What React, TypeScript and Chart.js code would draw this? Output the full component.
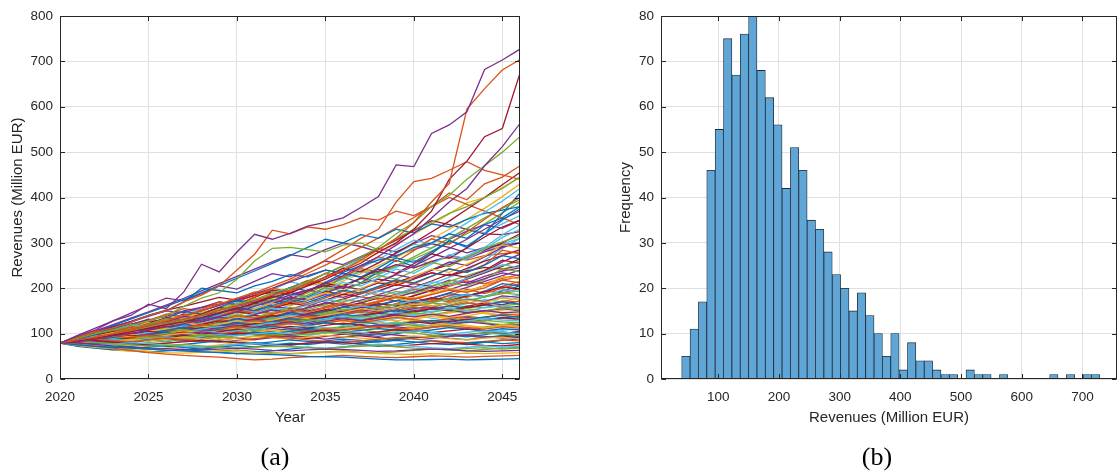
import React, { useEffect, useRef } from 'react';
import { Chart, registerables } from 'chart.js';

Chart.register(...registerables);

// ---------- Panel (a): simulated revenue paths ----------
const years = [2020, 2021, 2022, 2023, 2024, 2025, 2026, 2027, 2028, 2029, 2030, 2031, 2032, 2033, 2034, 2035, 2036, 2037, 2038, 2039, 2040, 2041, 2042, 2043, 2044, 2045, 2046];
const yearTicksStep = 5;
const revenueMax = 800;

const mainPaths = [
  [79, 75, 72, 70, 68, 66, 63, 62, 60, 58, 56, 55, 54, 52, 50, 49, 48, 46, 44, 42, 42, 43, 44, 42, 43, 44, 45],
  [79, 76, 72, 68, 63, 58, 55, 52, 50, 48, 45, 42, 44, 47, 49, 50, 52, 50, 48, 47, 49, 51, 50, 48, 50, 51, 52],
  [79, 74, 70, 67, 64, 60, 58, 57, 59, 61, 60, 58, 56, 55, 57, 59, 60, 58, 56, 55, 54, 56, 55, 57, 56, 57, 58],
  [79, 80, 76, 73, 70, 68, 67, 65, 64, 66, 68, 66, 63, 62, 64, 66, 65, 63, 61, 62, 64, 66, 65, 62, 61, 62, 63],
  [79, 83, 80, 78, 75, 72, 74, 76, 73, 70, 68, 70, 72, 71, 69, 67, 70, 72, 74, 71, 68, 66, 65, 67, 69, 66, 68],
  [79, 76, 74, 77, 80, 78, 75, 72, 70, 73, 76, 78, 75, 72, 70, 68, 71, 74, 77, 75, 72, 69, 67, 70, 73, 70, 72],
  [79, 82, 85, 81, 78, 76, 79, 82, 85, 83, 80, 77, 74, 76, 79, 82, 80, 77, 74, 72, 75, 78, 80, 77, 74, 73, 76],
  [79, 75, 78, 82, 79, 76, 73, 76, 80, 84, 81, 78, 82, 86, 83, 80, 77, 79, 82, 85, 82, 78, 76, 79, 82, 78, 80],
  [79, 84, 88, 85, 82, 86, 90, 87, 84, 81, 85, 89, 93, 90, 86, 83, 80, 84, 88, 91, 88, 85, 82, 80, 83, 86, 84],
  [79, 82, 79, 83, 87, 84, 88, 92, 89, 86, 90, 94, 91, 88, 92, 96, 93, 90, 87, 91, 95, 92, 89, 86, 90, 92, 88],
  [79, 77, 81, 84, 82, 86, 89, 85, 82, 86, 90, 87, 91, 95, 92, 88, 92, 96, 100, 97, 93, 90, 94, 97, 94, 90, 92],
  [79, 83, 87, 84, 88, 92, 89, 93, 97, 94, 90, 94, 98, 95, 99, 103, 100, 96, 100, 104, 101, 97, 94, 98, 101, 99, 96],
  [79, 81, 84, 88, 85, 89, 93, 90, 94, 98, 95, 99, 103, 100, 97, 101, 105, 102, 98, 102, 106, 103, 99, 103, 106, 103, 100],
  [79, 84, 81, 85, 90, 87, 91, 96, 93, 97, 101, 98, 94, 98, 103, 107, 104, 100, 104, 109, 106, 102, 106, 110, 107, 101, 104],
  [79, 82, 86, 91, 88, 84, 88, 93, 97, 94, 99, 103, 100, 105, 109, 106, 102, 107, 111, 108, 104, 108, 113, 110, 106, 111, 108],
  [79, 86, 90, 87, 92, 96, 93, 89, 94, 99, 103, 100, 96, 101, 106, 110, 107, 112, 116, 112, 108, 113, 117, 114, 110, 115, 112],
  [79, 80, 85, 90, 94, 91, 96, 101, 97, 93, 98, 103, 108, 105, 101, 106, 111, 115, 111, 107, 112, 117, 121, 117, 113, 119, 116],
  [79, 85, 82, 87, 92, 97, 94, 99, 104, 100, 96, 101, 106, 111, 108, 104, 109, 114, 119, 115, 111, 116, 121, 126, 122, 117, 120],
  [79, 83, 88, 85, 90, 95, 100, 97, 93, 98, 103, 108, 104, 100, 105, 111, 116, 112, 117, 122, 118, 114, 119, 125, 129, 126, 124],
  [79, 87, 92, 89, 85, 90, 95, 100, 105, 101, 106, 111, 107, 112, 117, 113, 109, 115, 120, 125, 121, 117, 122, 128, 133, 130, 128],
  [79, 81, 86, 91, 96, 93, 98, 103, 99, 104, 110, 106, 111, 116, 112, 118, 123, 119, 114, 120, 126, 122, 127, 132, 128, 135, 132],
  [79, 84, 81, 86, 91, 97, 102, 98, 104, 109, 105, 111, 116, 112, 118, 124, 120, 126, 121, 117, 123, 129, 125, 131, 137, 140, 136],
  [79, 86, 91, 96, 93, 98, 94, 99, 105, 110, 115, 111, 117, 122, 118, 124, 129, 125, 130, 136, 131, 127, 133, 138, 134, 143, 140],
  [79, 82, 87, 92, 98, 94, 100, 106, 102, 108, 113, 109, 115, 121, 117, 123, 129, 125, 131, 137, 132, 138, 133, 139, 146, 141, 144],
  [79, 85, 90, 87, 93, 99, 104, 100, 106, 112, 118, 114, 120, 126, 121, 127, 133, 129, 135, 141, 137, 143, 138, 145, 151, 146, 148],
  [79, 83, 89, 95, 91, 97, 103, 109, 105, 111, 117, 113, 119, 125, 131, 127, 133, 139, 134, 140, 146, 142, 148, 155, 150, 157, 152],
  [79, 88, 93, 90, 96, 102, 98, 104, 110, 116, 112, 118, 124, 120, 127, 133, 139, 135, 141, 147, 142, 149, 155, 150, 158, 162, 156],
  [79, 81, 87, 93, 99, 105, 101, 107, 113, 109, 116, 122, 118, 125, 131, 137, 133, 140, 146, 141, 148, 155, 150, 157, 164, 158, 160],
  [79, 86, 92, 98, 94, 100, 107, 113, 109, 116, 123, 119, 126, 133, 128, 135, 142, 138, 145, 152, 147, 154, 161, 156, 163, 170, 165],
  [79, 84, 90, 97, 103, 99, 106, 113, 120, 115, 122, 129, 124, 131, 138, 134, 141, 149, 144, 151, 158, 153, 161, 168, 163, 172, 170],
  [79, 89, 95, 91, 98, 105, 111, 107, 114, 121, 128, 123, 130, 138, 133, 140, 147, 155, 150, 157, 165, 160, 167, 174, 169, 178, 175],
  [79, 83, 90, 97, 93, 100, 107, 114, 110, 117, 125, 132, 127, 135, 142, 137, 145, 153, 148, 156, 164, 159, 167, 175, 170, 183, 180],
  [79, 87, 94, 90, 97, 104, 112, 108, 116, 123, 119, 127, 135, 130, 138, 146, 154, 149, 157, 165, 160, 168, 177, 172, 181, 190, 186],
  [79, 85, 92, 99, 106, 102, 110, 117, 113, 121, 129, 125, 133, 141, 137, 145, 153, 161, 156, 164, 173, 168, 177, 186, 180, 197, 192],
  [79, 90, 97, 93, 101, 108, 116, 112, 120, 128, 124, 132, 140, 136, 144, 153, 148, 157, 166, 161, 170, 179, 174, 183, 192, 203, 198],
  [79, 84, 91, 99, 107, 103, 111, 119, 115, 124, 132, 128, 137, 146, 141, 150, 159, 155, 164, 173, 168, 178, 188, 183, 193, 210, 205],
  [79, 88, 96, 92, 100, 108, 117, 113, 121, 130, 139, 134, 143, 152, 148, 157, 167, 162, 171, 181, 176, 186, 196, 191, 201, 218, 212],
  [79, 86, 94, 102, 98, 106, 115, 124, 119, 128, 137, 133, 142, 152, 147, 157, 167, 162, 172, 183, 178, 188, 199, 194, 205, 226, 220],
  [79, 91, 99, 95, 104, 113, 122, 117, 127, 136, 132, 142, 152, 147, 157, 168, 163, 174, 185, 180, 191, 203, 197, 209, 221, 234, 228],
  [79, 85, 93, 102, 111, 107, 116, 126, 121, 131, 141, 136, 147, 158, 153, 164, 175, 170, 181, 193, 188, 200, 212, 206, 219, 243, 236],
  [79, 89, 98, 94, 103, 113, 123, 118, 128, 139, 134, 145, 156, 151, 163, 175, 169, 181, 194, 188, 201, 214, 208, 222, 236, 252, 245],
  [79, 87, 96, 105, 101, 111, 121, 131, 126, 137, 148, 143, 155, 167, 161, 174, 187, 181, 194, 208, 202, 216, 231, 224, 239, 262, 255],
  [79, 92, 101, 97, 107, 117, 127, 122, 133, 144, 156, 150, 162, 175, 169, 182, 196, 190, 204, 219, 212, 227, 242, 235, 251, 272, 265],
  [79, 86, 95, 105, 115, 110, 121, 132, 127, 139, 151, 146, 158, 171, 165, 179, 193, 187, 202, 217, 210, 226, 243, 235, 252, 284, 276],
  [79, 90, 99, 95, 105, 116, 127, 122, 134, 146, 141, 154, 167, 161, 175, 190, 184, 199, 215, 208, 225, 242, 235, 253, 271, 296, 288],
  [79, 88, 98, 108, 104, 115, 126, 138, 133, 145, 158, 152, 166, 180, 174, 189, 204, 197, 213, 230, 222, 240, 258, 250, 269, 290, 300],
  [79, 93, 103, 99, 110, 121, 133, 128, 141, 154, 148, 162, 176, 170, 185, 201, 194, 211, 228, 220, 238, 257, 248, 268, 288, 302, 315],
  [79, 87, 97, 108, 119, 114, 126, 139, 133, 147, 161, 155, 170, 186, 179, 196, 213, 205, 223, 242, 233, 253, 274, 264, 286, 312, 330],
  [79, 91, 102, 98, 110, 122, 135, 129, 143, 158, 152, 167, 183, 176, 193, 211, 203, 222, 242, 233, 254, 276, 266, 289, 313, 335, 350],
  [79, 89, 100, 112, 107, 120, 134, 149, 143, 158, 174, 167, 184, 202, 194, 213, 233, 224, 245, 267, 257, 280, 305, 293, 319, 350, 375],
  [79, 94, 106, 101, 114, 128, 143, 137, 153, 170, 163, 181, 200, 192, 212, 233, 224, 246, 269, 259, 283, 309, 297, 324, 352, 378, 400],
];

const crossPaths = [
  [79, 90, 102, 110, 121, 130, 138, 150, 158, 165, 172, 168, 160, 155, 150, 158, 165, 160, 152, 148, 155, 160, 152, 146, 150, 155, 150],
  [79, 74, 70, 72, 76, 80, 78, 84, 90, 96, 102, 110, 118, 125, 134, 142, 150, 162, 172, 180, 192, 205, 215, 228, 240, 250, 260],
  [79, 86, 95, 104, 112, 118, 126, 133, 138, 142, 136, 130, 134, 128, 122, 126, 120, 114, 118, 112, 108, 114, 118, 112, 106, 108, 110],
  [79, 82, 88, 84, 90, 96, 104, 110, 118, 124, 132, 140, 136, 146, 158, 166, 176, 188, 200, 212, 226, 240, 252, 268, 284, 300, 320],
  [79, 72, 68, 64, 66, 70, 74, 71, 68, 72, 76, 80, 77, 74, 79, 84, 88, 85, 82, 86, 90, 94, 90, 87, 91, 96, 95],
  [79, 88, 84, 92, 100, 96, 104, 100, 108, 116, 112, 122, 130, 126, 134, 144, 140, 150, 160, 155, 166, 176, 170, 182, 194, 190, 200],
  [79, 87, 96, 103, 110, 120, 128, 135, 146, 156, 165, 176, 186, 194, 205, 214, 206, 195, 186, 178, 170, 162, 156, 150, 144, 140, 135],
  [79, 76, 80, 84, 81, 86, 91, 96, 102, 99, 106, 113, 120, 128, 124, 133, 142, 150, 160, 155, 166, 178, 190, 202, 215, 228, 240],
  [79, 84, 80, 76, 80, 85, 82, 88, 94, 90, 97, 104, 100, 108, 115, 111, 106, 112, 119, 126, 121, 116, 122, 129, 124, 120, 125],
  [79, 85, 92, 99, 95, 102, 110, 118, 126, 134, 128, 122, 130, 138, 146, 140, 134, 142, 151, 160, 154, 148, 157, 166, 175, 170, 180],
  [79, 90, 98, 108, 118, 128, 124, 134, 145, 156, 150, 162, 174, 168, 180, 193, 186, 199, 212, 206, 220, 234, 228, 244, 260, 272, 285],
  [79, 92, 100, 110, 118, 114, 108, 102, 110, 116, 112, 106, 100, 96, 102, 108, 104, 98, 94, 100, 106, 102, 97, 93, 98, 104, 100],
  [79, 81, 86, 92, 88, 95, 102, 98, 106, 114, 122, 118, 127, 136, 132, 141, 150, 146, 156, 166, 162, 173, 184, 180, 192, 204, 215],
  [79, 73, 68, 64, 61, 64, 68, 72, 70, 75, 80, 86, 92, 88, 95, 102, 110, 106, 114, 122, 130, 126, 135, 144, 150, 155, 160],
  [79, 94, 106, 116, 126, 138, 150, 146, 158, 170, 164, 176, 170, 162, 174, 186, 180, 192, 186, 198, 210, 204, 218, 212, 226, 238, 245],
  [79, 78, 82, 86, 90, 94, 90, 86, 91, 96, 101, 97, 92, 97, 102, 107, 112, 108, 103, 108, 113, 118, 114, 110, 115, 120, 118],
  [79, 85, 93, 101, 110, 106, 116, 126, 122, 133, 144, 156, 150, 163, 176, 170, 184, 198, 192, 208, 224, 240, 256, 272, 290, 318, 340],
  [79, 88, 96, 92, 86, 92, 98, 105, 112, 108, 115, 110, 117, 124, 131, 138, 133, 128, 135, 143, 150, 158, 152, 160, 168, 164, 172],
  [79, 74, 70, 66, 62, 59, 62, 65, 62, 59, 56, 59, 62, 66, 70, 67, 71, 75, 72, 76, 80, 84, 80, 76, 81, 85, 88],
  [79, 86, 94, 102, 110, 120, 130, 125, 136, 147, 158, 152, 144, 154, 165, 160, 170, 181, 176, 187, 198, 192, 204, 216, 210, 222, 230],
  [79, 83, 77, 82, 88, 94, 90, 96, 102, 108, 104, 99, 105, 111, 118, 124, 119, 126, 133, 128, 134, 141, 136, 130, 136, 144, 142],
  [79, 88, 98, 108, 120, 132, 126, 138, 150, 162, 175, 188, 200, 214, 228, 240, 232, 225, 238, 252, 245, 258, 272, 265, 280, 292, 300],
  [79, 82, 78, 84, 90, 87, 93, 99, 106, 113, 109, 116, 123, 130, 125, 133, 141, 136, 144, 152, 160, 168, 163, 172, 181, 188, 195],
  [79, 90, 98, 106, 114, 110, 118, 126, 120, 114, 120, 128, 136, 130, 124, 130, 137, 132, 126, 133, 140, 134, 128, 124, 129, 134, 130],
  [79, 84, 90, 86, 93, 100, 108, 104, 112, 120, 116, 125, 134, 143, 138, 148, 158, 168, 178, 172, 184, 196, 208, 220, 234, 248, 265],
  [79, 76, 72, 69, 72, 75, 72, 69, 66, 70, 74, 71, 75, 79, 76, 80, 84, 81, 85, 89, 93, 90, 94, 98, 102, 100, 105],
  [79, 92, 86, 96, 106, 98, 110, 122, 114, 104, 116, 128, 120, 134, 148, 138, 150, 162, 152, 166, 180, 170, 184, 198, 188, 200, 210],
  [79, 80, 84, 88, 93, 98, 103, 99, 95, 100, 105, 110, 116, 112, 117, 123, 129, 125, 131, 137, 143, 139, 145, 151, 147, 152, 155],
  [79, 88, 97, 107, 103, 114, 125, 137, 132, 145, 158, 172, 166, 181, 196, 190, 206, 222, 214, 231, 249, 268, 288, 308, 330, 352, 370],
  [79, 77, 74, 71, 68, 66, 64, 62, 60, 62, 64, 61, 58, 56, 58, 60, 62, 59, 57, 60, 63, 66, 64, 62, 65, 68, 70],
  [79, 86, 81, 88, 95, 102, 97, 104, 111, 118, 113, 120, 128, 136, 131, 139, 147, 142, 150, 158, 166, 161, 169, 177, 172, 179, 185],
  [79, 91, 103, 115, 127, 140, 152, 160, 170, 180, 174, 184, 192, 186, 196, 206, 200, 210, 220, 214, 224, 234, 228, 238, 246, 242, 250],
  [79, 81, 85, 82, 86, 91, 96, 92, 88, 93, 98, 104, 100, 106, 112, 108, 114, 120, 116, 122, 128, 124, 130, 136, 132, 135, 138],
  [79, 85, 92, 99, 107, 103, 111, 119, 115, 124, 133, 128, 138, 148, 143, 153, 164, 158, 169, 180, 175, 187, 199, 193, 206, 218, 225],
  [79, 88, 97, 106, 115, 124, 133, 140, 146, 150, 154, 148, 142, 136, 140, 134, 128, 122, 126, 120, 115, 119, 123, 118, 113, 117, 115],
  [79, 83, 88, 94, 100, 96, 103, 110, 117, 113, 121, 129, 137, 132, 141, 150, 159, 168, 162, 172, 183, 195, 208, 221, 235, 258, 275],
  [79, 84, 89, 94, 90, 86, 91, 97, 103, 109, 105, 112, 119, 126, 122, 129, 136, 131, 138, 145, 152, 147, 154, 161, 157, 162, 165],
  [79, 76, 80, 77, 82, 87, 84, 90, 96, 103, 110, 106, 114, 122, 131, 140, 150, 160, 172, 184, 196, 210, 224, 240, 262, 288, 310],
  [79, 83, 87, 91, 95, 99, 103, 99, 95, 91, 96, 101, 97, 93, 89, 94, 99, 95, 91, 87, 91, 95, 99, 95, 91, 94, 92],
  [79, 89, 97, 93, 100, 108, 116, 112, 121, 130, 126, 135, 130, 139, 148, 143, 152, 161, 156, 165, 174, 169, 178, 187, 182, 194, 205],
];

const upperPaths = [
  [79, 90, 100, 111, 106, 118, 132, 126, 140, 155, 170, 164, 180, 197, 214, 232, 225, 244, 264, 285, 306, 298, 320, 344, 368, 392, 420],
  [79, 84, 92, 101, 110, 120, 131, 143, 138, 151, 165, 180, 196, 190, 207, 225, 244, 236, 256, 278, 300, 324, 348, 374, 400, 428, 455],
  [79, 92, 105, 118, 132, 146, 160, 175, 190, 206, 222, 238, 255, 272, 290, 308, 300, 318, 310, 330, 322, 342, 335, 352, 365, 372, 380],
  [79, 86, 94, 103, 112, 122, 118, 130, 143, 156, 170, 185, 200, 216, 233, 251, 270, 290, 311, 333, 356, 380, 400, 385, 370, 355, 340],
  [79, 82, 88, 95, 103, 99, 108, 118, 128, 139, 150, 146, 158, 171, 185, 200, 216, 232, 250, 268, 288, 308, 330, 352, 376, 402, 430],
  [79, 93, 106, 120, 134, 148, 163, 178, 194, 210, 226, 242, 258, 274, 268, 285, 300, 292, 280, 272, 285, 298, 290, 278, 290, 296, 300],
  [79, 87, 96, 92, 101, 111, 122, 117, 128, 140, 153, 166, 180, 175, 190, 206, 222, 239, 232, 250, 269, 289, 310, 332, 355, 376, 395],
  [79, 89, 99, 110, 121, 116, 128, 141, 155, 170, 164, 180, 197, 214, 207, 225, 244, 264, 256, 276, 297, 288, 310, 332, 322, 342, 360],
  [79, 84, 90, 97, 104, 112, 121, 130, 140, 151, 162, 174, 187, 201, 216, 232, 249, 267, 286, 306, 327, 349, 340, 330, 320, 318, 325],
  [79, 95, 88, 100, 114, 106, 120, 136, 128, 145, 162, 152, 172, 192, 180, 202, 225, 212, 236, 262, 248, 276, 305, 290, 320, 365, 410],
  [79, 88, 97, 107, 118, 130, 142, 155, 150, 163, 177, 192, 186, 201, 217, 210, 226, 243, 236, 252, 245, 260, 268, 262, 272, 276, 280],
  [79, 81, 86, 92, 99, 106, 114, 123, 133, 143, 154, 166, 179, 193, 208, 224, 241, 259, 278, 298, 319, 341, 364, 388, 400, 422, 445],
  [79, 96, 112, 128, 145, 162, 178, 172, 188, 205, 198, 215, 232, 225, 242, 260, 252, 270, 288, 280, 298, 316, 308, 326, 340, 332, 350],
  [79, 83, 80, 86, 92, 99, 106, 114, 122, 131, 140, 150, 160, 171, 182, 194, 207, 220, 234, 249, 265, 282, 300, 320, 342, 366, 390],
  [79, 85, 91, 98, 105, 113, 121, 130, 139, 149, 160, 171, 183, 196, 210, 205, 220, 236, 230, 246, 262, 255, 272, 288, 282, 298, 310],
];

const outlierPaths = [
  [79, 95, 108, 128, 140, 165, 155, 192, 253, 236, 280, 319, 308, 321, 337, 345, 355, 378, 402, 472, 468, 541, 560, 589, 682, 703, 727],
  [79, 86, 92, 100, 108, 118, 125, 132, 140, 152, 160, 172, 185, 196, 210, 224, 240, 262, 285, 310, 345, 390, 431, 595, 640, 681, 704],
  [79, 84, 90, 97, 104, 112, 120, 126, 135, 146, 155, 168, 180, 190, 205, 220, 238, 255, 280, 300, 330, 370, 440, 480, 534, 552, 674],
  [79, 82, 88, 95, 100, 108, 115, 122, 130, 138, 148, 160, 172, 185, 196, 210, 228, 250, 270, 295, 320, 355, 390, 420, 470, 512, 563],
  [79, 85, 92, 98, 106, 114, 122, 130, 140, 152, 165, 175, 190, 200, 215, 232, 250, 268, 290, 320, 345, 380, 405, 440, 470, 500, 534],
  [79, 92, 104, 112, 125, 140, 150, 170, 185, 205, 240, 275, 328, 320, 335, 330, 340, 355, 350, 370, 360, 380, 410, 395, 430, 445, 470],
  [79, 90, 100, 108, 118, 128, 140, 160, 178, 190, 220, 260, 288, 290, 285, 280, 295, 300, 285, 310, 330, 345, 365, 380, 400, 420, 445],
  [79, 88, 98, 110, 125, 140, 150, 170, 200, 195, 190, 205, 215, 230, 225, 240, 235, 250, 262, 270, 290, 300, 320, 310, 340, 355, 380],
  [79, 85, 93, 100, 110, 118, 128, 140, 150, 165, 178, 190, 205, 220, 240, 262, 285, 310, 330, 390, 435, 442, 460, 479, 460, 450, 440],
];
const outlierColorIdx = [3, 1, 6, 3, 4, 1, 4, 0, 1];

// ---------- Panel (b): histogram of final revenues ----------
const binStart = 39.7;
const binWidth = 13.78;
const counts = [5, 11, 17, 46, 55, 75, 67, 76, 80, 68, 62, 56, 42, 51, 46, 35, 33, 28, 23, 20, 15, 19, 14, 10, 5, 10, 2, 8, 4, 4, 2, 1, 1, 0, 2, 1, 1, 0, 1, 0, 0, 0, 0, 0, 1, 0, 1, 0, 1, 1];
const histXMin = 5.6;
const histXMax = 757;
const histYMax = 80;

const matlabColors = ['#0072BD', '#D95319', '#EDB120', '#7E2F8E', '#77AC30', '#4DBEEE', '#A2142F'];
const TEXT = '#262626';
const GRID = '#e0e0e0';
const FONT = "'Liberation Sans', Arial, Helvetica, sans-serif";

const boxPlugin = {
  id: 'matlabBox',
  afterDatasetsDraw(chart: any) {
    const { ctx, chartArea: a, scales } = chart;
    const x0 = Math.round(a.left) + 0.5;
    const x1 = Math.round(a.right) - 0.5;
    const y0 = Math.round(a.top) + 0.5;
    const y1 = Math.round(a.bottom) - 0.5;
    ctx.save();
    ctx.strokeStyle = TEXT;
    ctx.lineWidth = 1;
    ctx.strokeRect(x0, y0, x1 - x0, y1 - y0);
    const tl = 4.5;
    ctx.beginPath();
    scales.x.ticks.forEach((t: any) => {
      const px = Math.round(scales.x.getPixelForValue(t.value)) + 0.5;
      ctx.moveTo(px, y1); ctx.lineTo(px, y1 - tl);
      ctx.moveTo(px, y0); ctx.lineTo(px, y0 + tl);
    });
    scales.y.ticks.forEach((t: any) => {
      const py = Math.round(scales.y.getPixelForValue(t.value)) + 0.5;
      ctx.moveTo(x0, py); ctx.lineTo(x0 + tl, py);
      ctx.moveTo(x1, py); ctx.lineTo(x1 - tl, py);
    });
    ctx.stroke();
    ctx.restore();
  },
};

const tickFont = { family: FONT, size: 13.5 };
const titleFont = { family: FONT, size: 15 };

function LinesChart() {
  const ref = useRef<HTMLCanvasElement>(null);
  useEffect(() => {
    const mk = (p: number[], color: string) => ({
      data: p.map((v, j) => ({ x: years[j], y: v })),
      borderColor: color,
      borderWidth: 1.3,
      pointRadius: 0,
      tension: 0,
      fill: false,
    });
    const datasets = [
      ...outlierPaths.map((p, i) => mk(p, matlabColors[outlierColorIdx[i]])),
      ...mainPaths.map((p, i) => mk(p, matlabColors[i % matlabColors.length])),
      ...crossPaths.map((p, i) => mk(p, matlabColors[(i + 3) % matlabColors.length])),
      ...upperPaths.map((p, i) => mk(p, matlabColors[(i + 5) % matlabColors.length])),
    ];
    const chart = new Chart(ref.current as HTMLCanvasElement, {
      type: 'line',
      data: { datasets },
      plugins: [boxPlugin],
      options: {
        animation: false,
        responsive: false,
        events: [],
        layout: { padding: { top: 16, right: 10, bottom: 45, left: 0 } },
        plugins: { legend: { display: false }, tooltip: { enabled: false } },
        scales: {
          x: {
            type: 'linear',
            min: years[0],
            max: years[years.length - 1],
            border: { display: false },
            grid: { color: GRID, drawTicks: false },
            ticks: {
              stepSize: yearTicksStep,
              includeBounds: false,
              maxRotation: 0,
              color: TEXT,
              font: tickFont,
              padding: 10,
              callback: (v: any) => String(v),
            },
            title: { display: true, text: 'Year', color: TEXT, font: titleFont, padding: { top: 0, bottom: 4 } },
            afterFit: (s: any) => { s.height = 52; },
          },
          y: {
            min: 0,
            max: revenueMax,
            border: { display: false },
            grid: { color: GRID, drawTicks: false },
            ticks: { stepSize: 100, color: TEXT, font: tickFont, padding: 7 },
            title: { display: true, text: 'Revenues (Million EUR)', color: TEXT, font: titleFont, padding: { top: 9, bottom: 0 } },
            afterFit: (s: any) => { s.width = 60; },
          },
        },
      } as any,
    });
    return () => chart.destroy();
  }, []);
  return <canvas ref={ref} width={530} height={476} style={{ position: 'absolute', left: 0, top: 0 }} />;
}

function HistChart() {
  const ref = useRef<HTMLCanvasElement>(null);
  useEffect(() => {
    const centers = counts.map((_, i) => binStart + binWidth * (i + 0.5));
    const chart = new Chart(ref.current as HTMLCanvasElement, {
      type: 'bar',
      data: {
        datasets: [
          {
            data: counts.map((c, i) => ({ x: centers[i], y: c })),
            backgroundColor: '#5FA5D6',
            borderColor: '#1e2a33',
            borderWidth: 0.8,
            barPercentage: 1,
            categoryPercentage: 1,
          },
        ],
      },
      plugins: [boxPlugin],
      options: {
        animation: false,
        responsive: false,
        events: [],
        layout: { padding: { top: 16, right: 1, bottom: 45, left: 0 } },
        plugins: { legend: { display: false }, tooltip: { enabled: false } },
        scales: {
          x: {
            type: 'linear',
            min: histXMin,
            max: histXMax,
            offset: false,
            border: { display: false },
            grid: { color: GRID, drawTicks: false, offset: false },
            ticks: {
              stepSize: 100,
              includeBounds: false,
              maxRotation: 0,
              color: TEXT,
              font: tickFont,
              padding: 10,
            },
            title: { display: true, text: 'Revenues (Million EUR)', color: TEXT, font: titleFont, padding: { top: 0, bottom: 4 } },
            afterFit: (s: any) => { s.height = 52; },
          },
          y: {
            min: 0,
            max: histYMax,
            border: { display: false },
            grid: { color: GRID, drawTicks: false },
            ticks: { stepSize: 10, color: TEXT, font: tickFont, padding: 7 },
            title: { display: true, text: 'Frequency', color: TEXT, font: titleFont, padding: { top: 27, bottom: 0 } },
            afterFit: (s: any) => { s.width = 71; },
          },
        },
      } as any,
    });
    return () => chart.destroy();
  }, []);
  return <canvas ref={ref} width={528} height={476} style={{ position: 'absolute', left: 590, top: 0 }} />;
}

const captionStyle: React.CSSProperties = {
  position: 'absolute',
  top: 441,
  width: 60,
  textAlign: 'center',
  fontFamily: "'Liberation Serif', 'Times New Roman', Times, serif",
  fontSize: 26,
  lineHeight: '32px',
  color: '#000',
};

export default function App() {
  return (
    <div style={{ position: 'absolute', left: 0, top: 0, width: 1118, height: 476, overflow: 'hidden', background: '#fff' }}>
      <LinesChart />
      <HistChart />
      <div style={{ ...captionStyle, left: 245 }}>(a)</div>
      <div style={{ ...captionStyle, left: 847 }}>(b)</div>
    </div>
  );
}
